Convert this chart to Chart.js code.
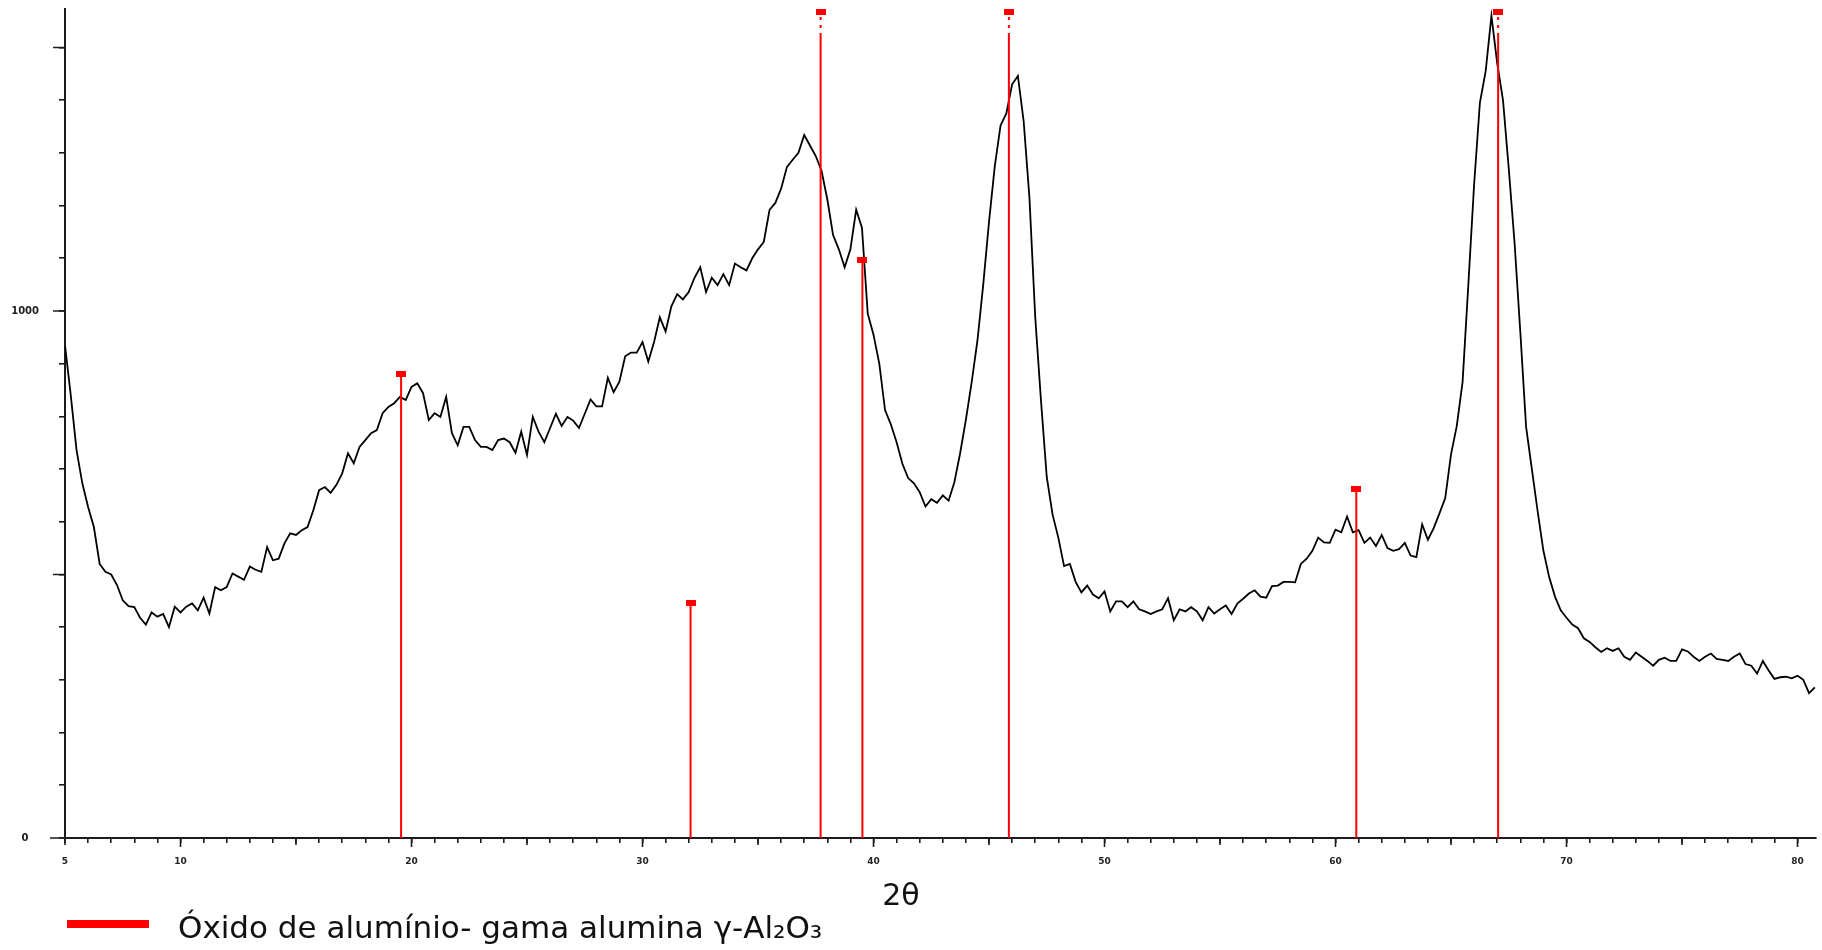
<!DOCTYPE html>
<html>
<head>
<meta charset="utf-8">
<script src="https://cdn.jsdelivr.net/npm/chart.js@4.4.1/dist/chart.umd.min.js"></script>
<style>
  html, body { margin: 0; padding: 0; background: #fff; }
  canvas { display: block; }
</style>
</head>
<body>
<canvas id="xrdChart" width="1822" height="950"></canvas>
<script>
// 2θ scan: start angle and step, intensities every 0.25°
const scanStart = 5;
const scanStep = 0.25;
const intensity = [
    935, 840, 736, 673, 628, 590, 520, 505,
    500, 480, 451, 440, 438, 418, 405, 428,
    420, 425, 400, 439, 428, 439, 445, 432,
    456, 426, 476, 470, 476, 502, 496, 490,
    515, 509, 505, 552, 527, 530, 559, 578,
    575, 584, 590, 622, 660, 666, 655, 670,
    692, 730, 711, 742, 755, 768, 774, 806,
    818, 825, 837, 831, 856, 863, 844, 793,
    806, 799, 837, 768, 745, 780, 780, 755,
    742, 742, 736, 755, 758, 751, 731, 771,
    727, 799, 771, 751, 778, 805, 782, 799,
    792, 778, 805, 832, 819, 819, 873, 846,
    866, 914, 921, 921, 941, 904, 941, 988,
    961, 1009, 1032, 1022, 1036, 1063, 1083, 1036,
    1063, 1049, 1070, 1049, 1090, 1083, 1077, 1100,
    1117, 1131, 1192, 1205, 1232, 1273, 1287, 1300,
    1334, 1314, 1294, 1266, 1212, 1144, 1117, 1083,
    1117, 1192, 1158, 995, 955, 900, 812, 785,
    751, 710, 683, 673, 656, 629, 643, 636,
    650, 640, 675, 730, 794, 865, 944, 1050,
    1169, 1275, 1352, 1375, 1430, 1446, 1360, 1215,
    989, 830, 685, 614, 570, 516, 520, 486,
    466, 479, 462, 455, 468, 430, 449, 449,
    438, 449, 434, 430, 425, 430, 434, 455,
    413, 434, 430, 438, 430, 413, 438, 426,
    434, 441, 425, 445, 454, 464, 470, 458,
    456, 478, 479, 486, 486, 485, 520, 530,
    545, 570, 561, 560, 585, 580, 610, 580,
    584, 560, 570, 554, 575, 550, 545, 548,
    560, 536, 533, 595, 566, 588, 616, 645,
    728, 782, 865, 1050, 1240, 1395, 1455, 1560,
    1470, 1400, 1270, 1130, 960, 780, 700, 620,
    545, 495, 458, 432, 418, 405, 398, 379,
    372, 362, 353, 360, 355, 360, 344, 338,
    352, 344, 336, 327, 338, 342, 336, 336,
    358, 354, 344, 336, 344, 350, 340, 338,
    336, 344, 350, 330, 327, 312, 336, 318,
    302, 305, 306, 303, 308, 300, 275, 286
];

// reference pattern (gama alumina): positions, heights, and whether the stick runs off the top
const refPos = [19.55, 32.08, 37.71, 39.52, 45.86, 60.90, 67.04];
const refInt = [880, 446, 1567, 1097, 1567, 662, 1567];
const refClipped = [false, false, true, false, true, false, true];

const xMin = 5, xMax = 80.8;
const yMin = 0, yMax = 1573;
const xLabelValues = [5, 10, 20, 30, 40, 50, 60, 70, 80];
const yLabelValues = [0, 1000];
const xTitle = '2θ';
const legendLabel = 'Óxido de alumínio- gama alumina γ-Al₂O₃';

const axisColor = '#1c1c1c';
const refColor = '#ff0000';
const tipLen = 45; // dotted part of clipped sticks

const curvePoints = intensity.map((v, i) => ({ x: scanStart + i * scanStep, y: v }));

const stickPoints = [];
const tipPoints = [];
const markerPoints = [];
refPos.forEach((p, i) => {
    const top = refClipped[i] ? refInt[i] - tipLen : refInt[i];
    stickPoints.push({ x: p, y: 0 }, { x: p, y: top }, { x: p, y: null });
    if (refClipped[i]) tipPoints.push({ x: p, y: top }, { x: p, y: refInt[i] }, { x: p, y: null });
    markerPoints.push({ x: p, y: refInt[i] });
});

// little red block on top of each stick
const marker = document.createElement('canvas');
marker.width = 10;
marker.height = 6;
const mctx = marker.getContext('2d');
mctx.fillStyle = refColor;
mctx.fillRect(0, 0, 10, 6);

const extras = {
    id: 'extras',
    afterDraw(chart) {
        const { ctx, chartArea, scales: { x, y } } = chart;
        ctx.save();
        ctx.strokeStyle = axisColor;
        ctx.lineWidth = 1.6;
        ctx.beginPath();
        // longer ticks every 5 and 10 degrees
        for (let v = 5; v <= 80; v += 5) {
            const len = v % 10 === 0 ? 9 : 7;
            const px = x.getPixelForValue(v);
            ctx.moveTo(px, chartArea.bottom);
            ctx.lineTo(px, chartArea.bottom + len);
        }
        // longer ticks every 500 counts
        for (let v = 0; v <= 1500; v += 500) {
            const py = y.getPixelForValue(v);
            ctx.moveTo(chartArea.left, py);
            ctx.lineTo(chartArea.left - (v === 0 ? 15 : 12), py);
        }
        ctx.stroke();

        ctx.fillStyle = '#111';
        ctx.font = '30px "DejaVu Sans"';
        ctx.textAlign = 'center';
        ctx.textBaseline = 'alphabetic';
        ctx.fillText(xTitle, 901, 905);

        ctx.fillStyle = refColor;
        ctx.fillRect(67, 920, 82, 8);
        ctx.fillStyle = '#111';
        ctx.textAlign = 'left';
        ctx.font = '31px "DejaVu Sans"';
        ctx.fillText(legendLabel, 178, 938);
        ctx.restore();
    }
};

new Chart(document.getElementById('xrdChart'), {
    type: 'line',
    data: {
        datasets: [
            {
                label: 'markers',
                data: markerPoints,
                showLine: false,
                pointStyle: marker,
                pointRadius: 5,
                clip: false,
                order: 0
            },
            {
                label: 'tips',
                data: tipPoints,
                borderColor: refColor,
                borderWidth: 2,
                borderDash: [3, 5],
                pointRadius: 0,
                spanGaps: false,
                order: 1
            },
            {
                label: legendLabel,
                data: stickPoints,
                borderColor: refColor,
                borderWidth: 2,
                pointRadius: 0,
                spanGaps: false,
                order: 2
            },
            {
                label: 'amostra',
                data: curvePoints,
                borderColor: '#000',
                borderWidth: 1.8,
                pointRadius: 0,
                tension: 0,
                order: 3
            }
        ]
    },
    options: {
        responsive: false,
        animation: false,
        devicePixelRatio: 1,
        layout: { padding: { top: 9, right: 6, bottom: 40, left: 0 } },
        plugins: {
            legend: { display: false },
            tooltip: { enabled: false }
        },
        scales: {
            x: {
                type: 'linear',
                min: xMin,
                max: xMax,
                afterFit: s => {
                    s.height = 72;
                    s.paddingLeft = 0;
                    s.paddingRight = 0;
                },
                border: { display: true, color: axisColor, width: 2 },
                grid: { drawOnChartArea: false, drawTicks: true, tickLength: 5, color: axisColor, lineWidth: 1.6 },
                ticks: {
                    stepSize: 1,
                    autoSkip: false,
                    includeBounds: false,
                    maxRotation: 0,
                    padding: 13,
                    color: '#222',
                    font: { family: 'DejaVu Sans', size: 9, weight: 'bold' },
                    callback: v => xLabelValues.includes(v) ? String(v) : ''
                }
            },
            y: {
                min: yMin,
                max: yMax,
                afterFit: s => {
                    s.width = 65;
                    s.paddingTop = 0;
                    s.paddingBottom = 0;
                },
                border: { display: true, color: axisColor, width: 2 },
                grid: { drawOnChartArea: false, drawTicks: true, tickLength: 6, color: axisColor, lineWidth: 1.6 },
                ticks: {
                    stepSize: 100,
                    autoSkip: false,
                    includeBounds: false,
                    crossAlign: 'center',
                    padding: 20,
                    color: '#222',
                    font: { family: 'DejaVu Sans', size: 10, weight: 'bold' },
                    callback: v => yLabelValues.includes(v) ? String(v) : ''
                }
            }
        }
    },
    plugins: [extras]
});
</script>
</body>
</html>
